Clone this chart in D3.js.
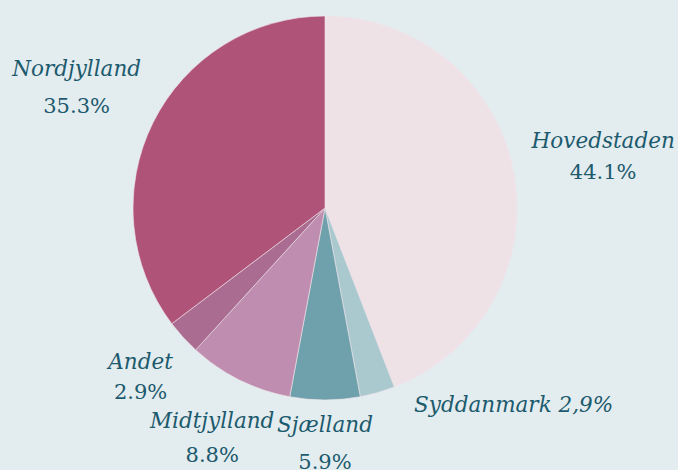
<!DOCTYPE html>
<html>
<head>
<meta charset="utf-8">
<script src="https://cdn.jsdelivr.net/npm/d3@7"></script>
<style>
    html, body { margin: 0; padding: 0; background: #e3ecef; }
    svg { display: block; }
    .label { font-family: "DejaVu Serif", serif; font-style: italic; font-size: 21.5px; fill: #1c5a6d; }
    .label .pct { font-style: normal; font-size: 21px; }
</style>
</head>
<body>
<div class="pie-chart"></div>
<script>
'use strict'

// Data (counts out of 34 respondents).
const regions = ['Hovedstaden', 'Syddanmark', 'Sjælland', 'Midtjylland', 'Andet', 'Nordjylland'];
const counts = [15, 1, 2, 3, 1, 12];
const percentLabels = ['44.1%', '2,9%', '5.9%', '8.8%', '2.9%', '35.3%'];
const colors = ['#efe2e7', '#aac9cf', '#6fa1ac', '#bf8daf', '#aa6c91', '#b05379'];

// Dimensions and Constants
const width = 678,
    height = 470,
    cx = 325,
    cy = 208,
    radius = 192;

// label distance from centre + small nudges, per slice (hand tuned)
const labelRadius = [283, 205, 242, 262, 255, 273];
const lineGap = [31, 0, 37, 34, 30, 37];
const nudgeX = [0, 33, 0, 4, 4, -4];
const nudgeY = [8, 7, 0, 2, 4, 8];

const data = regions.map((r, i) => ({
    region: r,
    count: counts[i],
    pct: percentLabels[i],
    color: colors[i],
    lr: labelRadius[i],
    gap: lineGap[i],
    nx: nudgeX[i],
    ny: nudgeY[i]
}));

const svg = d3.select('.pie-chart')
    .append('svg')
    .attr('width', width)
    .attr('height', height)
    .append('g')
    .attr('transform', `translate(${cx}, ${cy})`);

const pie = d3.pie()
    .sort(null)
    .value(d => d.count);

const arc = d3.arc()
    .innerRadius(0)
    .outerRadius(radius);

const arcs = pie(data);

svg.selectAll('path')
    .data(arcs)
    .join('path')
    .attr('d', arc)
    .style('fill', d => d.data.color)
    .style('stroke', '#f0e4e9')
    .style('stroke-width', 0.6);

// Labels.
const labels = svg.selectAll('text.label')
    .data(arcs)
    .join('text')
    .attr('class', 'label')
    .attr('transform', d => {
        let a = d3.arc().innerRadius(d.data.lr).outerRadius(d.data.lr);
        let [x, y] = a.centroid(d);
        return `translate(${x + d.data.nx}, ${y + d.data.ny})`;
    });

labels.each(function(d) {
    let t = d3.select(this);
    if (d.data.gap === 0) {
        // single line, left aligned
        t.style('text-anchor', 'start')
            .append('tspan')
            .attr('x', 0)
            .attr('y', 0)
            .text(d.data.region + ' ' + d.data.pct);
    } else {
        t.style('text-anchor', 'middle');
        t.append('tspan')
            .attr('x', 0)
            .attr('y', -d.data.gap / 2)
            .text(d.data.region);
        t.append('tspan')
            .attr('class', 'pct')
            .attr('x', 0)
            .attr('y', d.data.gap / 2)
            .text(d.data.pct);
    }
});
</script>
</body>
</html>
